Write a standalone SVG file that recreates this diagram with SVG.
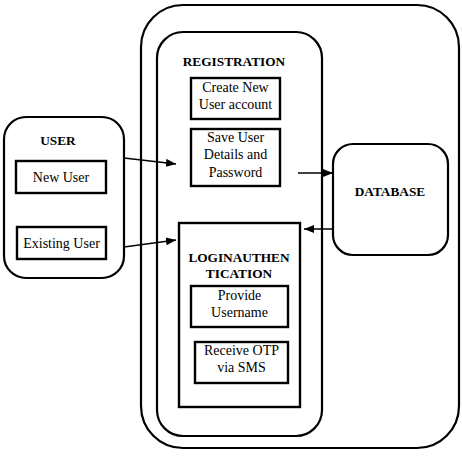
<svg xmlns="http://www.w3.org/2000/svg" width="462" height="461" viewBox="0 0 462 461">
<style>
.c{fill:none;stroke:#000;stroke-width:2.2}
.b{fill:#fff;stroke:#000;stroke-width:2.4}
.t{font-family:"Liberation Serif",serif;font-size:14px;text-anchor:middle;fill:#000}
.h{font-family:"Liberation Serif",serif;font-size:13.3px;font-weight:bold;text-anchor:middle;fill:#000}
.l{stroke:#000;stroke-width:1.5;fill:none}
</style>
<defs>
<marker id="a" markerWidth="10" markerHeight="8" refX="10" refY="4" orient="auto" markerUnits="userSpaceOnUse">
<path d="M0,0 L10,4 L0,8 z" fill="#000"/>
</marker>
</defs>
<rect width="462" height="461" fill="#fff"/>
<g id="system"><rect class="c" x="141" y="5" width="318" height="443" rx="42"/></g>
<g id="registration">
<rect class="c" x="157" y="32" width="165" height="404" rx="26"/>
<text class="h" x="234" y="66">REGISTRATION</text>
</g>
<g id="create-account">
<rect class="b" x="191" y="78" width="89" height="41"/>
<text class="t" x="235.5" y="92">Create New</text>
<text class="t" x="235.5" y="109">User account</text>
</g>
<g id="save-user">
<rect class="b" x="191" y="129" width="89" height="57"/>
<text class="t" x="235.5" y="142">Save User</text>
<text class="t" x="235.5" y="159">Details and</text>
<text class="t" x="235.5" y="177">Password</text>
</g>
<g id="login">
<rect class="b" x="179" y="223" width="121" height="184"/>
<text class="h" x="239" y="262">LOGINAUTHEN</text>
<text class="h" x="239" y="278">TICATION</text>
</g>
<g id="provide-username">
<rect class="b" x="191" y="286" width="97" height="41"/>
<text class="t" x="239.5" y="300">Provide</text>
<text class="t" x="239.5" y="317">Username</text>
</g>
<g id="receive-otp">
<rect class="b" x="195" y="342" width="93" height="41"/>
<text class="t" x="241.5" y="355">Receive OTP</text>
<text class="t" x="241.5" y="372">via SMS</text>
</g>
<g id="database">
<rect class="c" x="333" y="144" width="115" height="111" rx="20"/>
<text class="h" x="390" y="196">DATABASE</text>
</g>
<g id="user">
<rect class="c" x="4" y="117" width="120" height="161" rx="22"/>
<text class="h" x="58" y="145">USER</text>
</g>
<g id="new-user">
<rect class="b" x="16" y="161" width="90" height="32"/>
<text class="t" x="61" y="182">New User</text>
</g>
<g id="existing-user">
<rect class="b" x="17" y="227" width="89" height="32"/>
<text class="t" x="61.5" y="248">Existing User</text>
</g>
<g id="connectors">
<line class="l" x1="124" y1="158" x2="176" y2="164" marker-end="url(#a)"/>
<line class="l" x1="124" y1="247" x2="176" y2="240" marker-end="url(#a)"/>
<line class="l" x1="298" y1="173" x2="333" y2="173" marker-end="url(#a)"/>
<line class="l" x1="333" y1="229" x2="304" y2="229" marker-end="url(#a)"/>
</g>
</svg>
